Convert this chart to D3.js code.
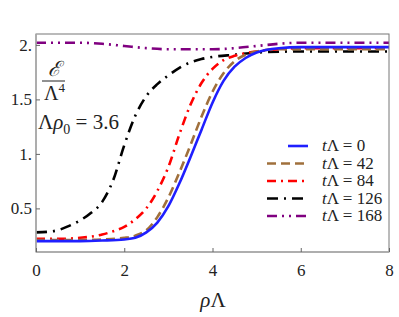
<!DOCTYPE html>
<html><head><meta charset="utf-8">
<script src="https://cdn.jsdelivr.net/npm/d3@7"></script>
<style>body{margin:0;background:#fff}svg{display:block}</style>
</head><body><svg id="c" width="399" height="317"></svg>
<script>
const rhoBlue  = [0,1,1.5,2,2.25,2.5,2.75,3,3.25,3.5,3.75,4,4.25,4.5,4.75,5,5.5,6,7,8];
const eBlue    = [0.20,0.20,0.205,0.215,0.23,0.28,0.37,0.52,0.73,0.97,1.22,1.47,1.67,1.80,1.88,1.93,1.97,1.98,1.98,1.98];
const rhoBrown = [0,1,1.5,2,2.25,2.5,2.75,3,3.25,3.5,3.75,4,4.25,4.5,4.75,5,5.5,6,7,8];
const eBrown   = [0.21,0.21,0.215,0.23,0.25,0.30,0.42,0.60,0.83,1.08,1.34,1.57,1.74,1.85,1.91,1.94,1.96,1.96,1.96,1.96];
const rhoRed   = [0,0.5,1,1.5,1.75,2,2.25,2.5,2.75,3,3.25,3.5,3.75,4,4.25,4.5,5,5.5,6,7,8];
const eRed     = [0.22,0.22,0.23,0.26,0.29,0.33,0.40,0.50,0.66,0.88,1.18,1.45,1.65,1.78,1.86,1.90,1.94,1.96,1.97,1.97,1.97];
const rhoBlack = [0,0.25,0.5,0.75,1,1.25,1.5,1.75,2,2.25,2.5,2.75,3,3.25,3.5,3.75,4,4.5,5,6,7,8];
const eBlack   = [0.28,0.285,0.30,0.34,0.39,0.46,0.56,0.76,1.08,1.35,1.53,1.64,1.72,1.79,1.84,1.87,1.89,1.91,1.93,1.94,1.94,1.94];
const rhoPurple= [0,1,1.5,2,2.5,3,3.5,4,4.5,5,5.5,6,7,8];
const ePurple  = [2.02,2.02,2.01,1.99,1.97,1.96,1.96,1.96,1.97,1.99,2.01,2.02,2.02,2.02];
const seriesLabels = ["0","42","84","126","168"];
const xTicks = [0,2,4,6,8];
const yTicks = [0.5,1,1.5,2];
const yTickLabels = ["0.5","1.","1.5","2."];

const FF = "Liberation Serif";
const svg = d3.select("#c");
const L=36,R=389,T=34,B=252;
const x = d3.scaleLinear().domain([0,8]).range([L,R]);
const y = d3.scaleLinear().domain([0.1,2.1]).range([B,T]);

const series = [
  {rho:rhoBlue, e:eBlue, color:"#1f1fff", dash:null},
  {rho:rhoBrown, e:eBrown, color:"#a0703c", dash:"9,5"},
  {rho:rhoRed, e:eRed, color:"#ff0000", dash:"9,5,2,5"},
  {rho:rhoBlack, e:eBlack, color:"#000000", dash:"11,6,2,6"},
  {rho:rhoPurple, e:ePurple, color:"#800080", dash:"10,5,2,5,2,5"}
];

svg.append("defs").append("clipPath").attr("id","cl").append("rect")
  .attr("x",L).attr("y",T).attr("width",R-L).attr("height",B-T);

const line = d3.line().x(d=>x(d[0])).y(d=>y(d[1])).curve(d3.curveMonotoneX);
const g = svg.append("g").attr("clip-path","url(#cl)");
series.slice().reverse().forEach(s=>{
  g.append("path").datum(s.rho.map((r,i)=>[r,s.e[i]]))
   .attr("d",line).attr("fill","none").attr("stroke",s.color)
   .attr("stroke-width",2.6).attr("stroke-dasharray",s.dash);
});

svg.append("rect").attr("x",L).attr("y",T).attr("width",R-L).attr("height",B-T)
  .attr("fill","none").attr("stroke","#777").attr("stroke-width",1);
svg.append("line").attr("x1",L).attr("x2",L).attr("y1",T).attr("y2",B).attr("stroke","#aaa").attr("stroke-width",1.6);
svg.append("line").attr("x1",L).attr("x2",R).attr("y1",B).attr("y2",B).attr("stroke","#aaa").attr("stroke-width",1.6);

const xa = svg.append("g").attr("transform",`translate(0,${B})`)
  .call(d3.axisBottom(x).tickValues(xTicks).tickSize(-4).tickPadding(12).tickFormat(d3.format("d")));
xa.attr("font-family",FF);
xa.select(".domain").remove();
xa.selectAll("line").attr("stroke","#666");
xa.selectAll("text").attr("font-size",17);

const ya = svg.append("g").attr("transform",`translate(${L},0)`)
  .call(d3.axisLeft(y).tickValues(yTicks).tickSize(-4).tickPadding(4).tickFormat((d,i)=>yTickLabels[i]));
ya.attr("font-family",FF);
ya.select(".domain").remove();
ya.selectAll("line").attr("stroke","#666");
ya.selectAll("text").attr("font-size",17);

svg.append("text").attr("x",54).attr("y",76).attr("text-anchor","middle").attr("font-size",21).attr("font-style","italic").text("ℰ");
svg.append("line").attr("x1",42).attr("x2",65).attr("y1",81).attr("y2",81).attr("stroke","#222").attr("stroke-width",1);
const lt = svg.append("text").attr("x",44).attr("y",100).attr("font-size",20);
lt.append("tspan").text("Λ");
lt.append("tspan").attr("font-size",13).attr("dy",-8).text("4");

const pt = svg.append("text").attr("x",38).attr("y",129).attr("font-size",21);
pt.append("tspan").text("Λ");
pt.append("tspan").attr("font-style","italic").text("ρ");
pt.append("tspan").attr("font-size",14).attr("dy",5).text("0");
pt.append("tspan").attr("dy",-5).text(" = 3.6");

const xl = svg.append("text").attr("x",213).attr("y",307).attr("text-anchor","middle").attr("font-size",21);
xl.append("tspan").attr("font-style","italic").text("ρ");
xl.append("tspan").text("Λ");

const legY = [146,163.5,181,198.5,216];
series.forEach((s,i)=>{
  svg.append("line").attr("x1",s.dash?267:288).attr("x2",308).attr("y1",legY[i]).attr("y2",legY[i])
    .attr("stroke",s.color).attr("stroke-width",2.6).attr("stroke-dasharray",s.dash);
  const t = svg.append("text").attr("x",322).attr("y",legY[i]+5).attr("font-size",17);
  t.append("tspan").attr("font-style","italic").text("t");
  t.append("tspan").text("Λ = "+seriesLabels[i]);
});

svg.selectAll("text").attr("font-family",FF).style("font-family",FF).attr("fill","#222");
</script></body></html>
